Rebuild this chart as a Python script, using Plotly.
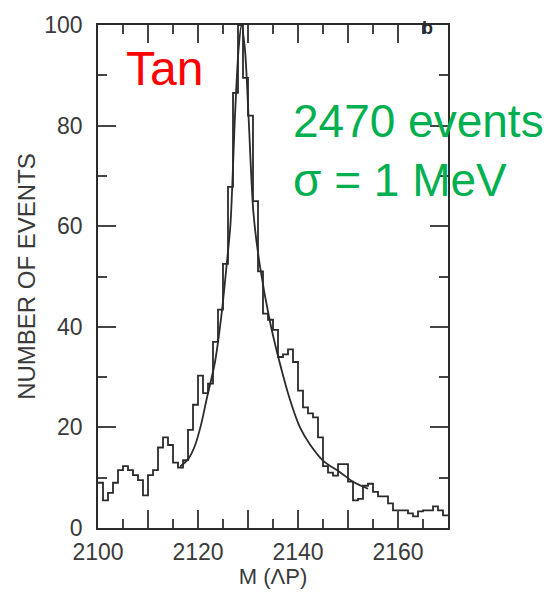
import plotly.graph_objects as go

# Histogram: 1 MeV bins from 2100 to 2170 (left edges), counts
bin_edges = list(range(2100, 2171))
counts = [9, 5.5, 7, 9, 11.5, 12.3, 11.5, 10.5, 9.5, 6.5,
          10.5, 11.5, 16, 18, 16.5, 13, 12, 13.5, 19.5, 24.5,
          30.3, 26.8, 28.7, 37, 43.4, 52.5, 67.8, 86.5, 100, 89.5,
          82, 65, 51, 42.6, 41.4, 39.4, 34, 34.5, 35.5, 33,
          27.3, 24, 22.8, 22, 18, 12.3, 11, 10.4, 12.7, 12.7,
          9.2, 5.5, 5.8, 8.4, 8.8, 7.2, 6.3, 6.3, 4.9, 3.5,
          3.5, 3.5, 2.9, 2.3, 3.3, 3.5, 3.5, 4.3, 3.5, 2.5]

# Fitted curve, points
curve_m = [2116.4, 2118.1, 2119.4, 2120.6, 2121.7, 2123.4, 2124.7, 2125.7, 2126.5,
           2127.4, 2128.1, 2128.7, 2129.4, 2130.1, 2131.1, 2132.4, 2134.4, 2136.1,
           2138.4, 2140.4, 2142.4, 2145.1, 2148.4, 2151.0, 2154.0]
curve_n = [12.2, 13.8, 16.4, 20.5, 25.5, 33.0, 42.4, 52.0, 60.5,
           82.0, 95.0, 100.0, 95.0, 82.0, 62.5, 52.0, 41.0, 33.8,
           25.5, 20.0, 16.6, 13.3, 11.1, 9.2, 7.8]

x_ticks = [2100, 2110, 2120, 2130, 2140, 2150, 2160, 2170]
x_ticktext = ["2100", "", "2120", "", "2140", "", "2160", ""]
x_minor = [2105, 2115, 2125, 2135, 2145, 2155, 2165]
y_ticks = [0, 20, 40, 60, 80, 100]
y_ticktext = ["0", "20", "40", "60", "80", "100"]
y_minor = [10, 30, 50, 70, 90]

x_range = [2100, 2170]
y_range = [0, 100]

ink = "#2b2b2b"
tick_col = "#444444"
label_col = "#3a3a3a"

fig = go.Figure()
fig.add_trace(go.Scatter(
    x=bin_edges, y=counts + [counts[-1]], mode="lines",
    line=dict(shape="hv", color=ink, width=1.8), hoverinfo="skip", showlegend=False))
fig.add_trace(go.Scatter(
    x=curve_m, y=curve_n, mode="lines",
    line=dict(shape="spline", smoothing=0.8, color=ink, width=1.8),
    hoverinfo="skip", showlegend=False))
# invisible trace on the overlay axes that carry the short (minor) ticks
fig.add_trace(go.Scatter(x=x_range, y=y_range, xaxis="x2", yaxis="y2", mode="markers",
                         marker=dict(size=1, color="rgba(0,0,0,0)"), hoverinfo="skip",
                         showlegend=False))

axis_common = dict(showline=True, linecolor=ink, linewidth=1.8, mirror="ticks",
                   ticks="inside", tickcolor=tick_col, tickwidth=2, showgrid=False,
                   zeroline=False, ticklen=18,
                   tickfont=dict(family="Liberation Sans", size=23, color=label_col))

minor_common = dict(tickmode="array", ticks="inside", ticklen=9, tickcolor=tick_col,
                    tickwidth=1.8, showticklabels=False, showline=False,
                    mirror="ticks", showgrid=False, zeroline=False)

fig.update_layout(
    xaxis=dict(range=x_range, tickmode="array", tickvals=x_ticks, ticktext=x_ticktext,
               ticklabelstandoff=2,
               title=dict(text="M (ΛP)", standoff=2,
                          font=dict(family="Liberation Sans", size=22, color=label_col)),
               **axis_common),
    yaxis=dict(range=y_range, tickmode="array", tickvals=y_ticks, ticktext=y_ticktext,
               ticklabelstandoff=9,
               title=dict(text="NUMBER OF EVENTS", standoff=2,
                          font=dict(family="Liberation Sans", size=24, color=label_col)),
               **axis_common),
    xaxis2=dict(range=x_range, overlaying="x", anchor="y2", side="bottom",
                tickvals=x_minor, **minor_common),
    yaxis2=dict(range=y_range, overlaying="y", anchor="x2", side="left",
                tickvals=y_minor, **minor_common),
)

fig.add_annotation(text="Tan", xref="paper", yref="paper", x=0.075, y=0.913,
                   xanchor="left", yanchor="middle", showarrow=False,
                   font=dict(family="Liberation Sans", size=48, color="#ff0000"))
fig.add_annotation(text="2470 events", xref="paper", yref="paper", x=0.551, y=0.81,
                   xanchor="left", yanchor="middle", showarrow=False,
                   font=dict(family="Liberation Sans", size=46, color="#00b050"))
fig.add_annotation(text="σ = 1 MeV", xref="paper", yref="paper", x=0.551, y=0.692,
                   xanchor="left", yanchor="middle", showarrow=False,
                   font=dict(family="Liberation Sans", size=46, color="#00b050"))
fig.add_annotation(text="<b>b</b>", xref="paper", yref="paper", x=0.94, y=0.995,
                   xanchor="center", yanchor="middle", showarrow=False,
                   font=dict(family="Liberation Sans", size=18, color=ink))

fig.update_layout(width=546, height=594, margin=dict(l=98, r=98, t=18, b=64),
                  paper_bgcolor="white", plot_bgcolor="white")

fig.write_html("out.html")
